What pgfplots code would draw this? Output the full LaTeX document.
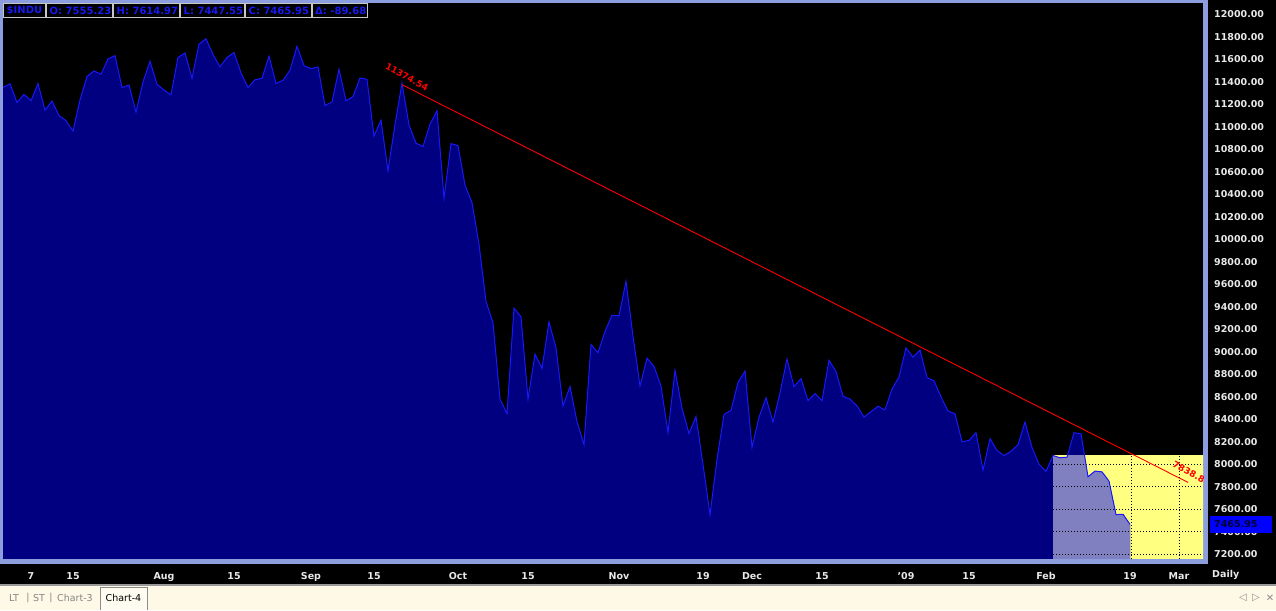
\documentclass[border=0pt]{standalone}
\usepackage{fontspec}
\setmainfont{DejaVu Sans}
\usepackage{pgfplots}
\pgfplotsset{compat=1.18}
\usepackage{pgfplotstable}
\definecolor{navy}{RGB}{0,0,128}
\definecolor{edgeblue}{RGB}{24,24,250}
\definecolor{lav}{RGB}{128,128,192}
\definecolor{ylw}{RGB}{255,255,128}
\definecolor{frameblue}{RGB}{140,158,222}
\definecolor{cream}{RGB}{253,249,230}
\definecolor{infoblue}{RGB}{24,24,240}
\definecolor{lbl}{RGB}{232,232,232}
\pgfplotstableread{
idx close
0 11350.01
1 11382.26
2 11215.51
3 11288.53
4 11231.96
5 11384.21
6 11147.44
7 11229.02
8 11100.54
9 11055.19
10 10962.54
11 11239.28
12 11446.66
13 11496.57
14 11467.34
15 11602.50
16 11632.38
17 11349.28
18 11370.69
19 11131.08
20 11397.56
21 11583.69
22 11378.02
23 11326.32
24 11284.15
25 11615.77
26 11656.07
27 11431.43
28 11734.32
29 11782.35
30 11642.47
31 11532.96
32 11615.93
33 11659.90
34 11479.39
35 11348.55
36 11417.43
37 11430.21
38 11628.06
39 11386.25
40 11412.87
41 11502.51
42 11715.18
43 11543.55
44 11516.92
45 11532.88
46 11188.23
47 11220.96
48 11510.74
49 11230.73
50 11268.92
51 11433.71
52 11421.99
53 10917.51
54 11059.02
55 10609.66
56 11019.69
57 11388.44
58 11015.69
59 10854.17
60 10825.17
61 11022.06
62 11143.13
63 10365.45
64 10850.66
65 10831.07
66 10482.85
67 10325.38
68 9955.50
69 9447.11
70 9258.10
71 8579.19
72 8451.19
73 9387.61
74 9310.99
75 8577.91
76 8979.26
77 8852.22
78 9265.43
79 9033.66
80 8519.21
81 8691.25
82 8378.95
83 8175.77
84 9065.12
85 8990.96
86 9180.69
87 9325.01
88 9319.83
89 9625.28
90 9139.27
91 8695.79
92 8943.81
93 8870.54
94 8693.96
95 8282.66
96 8835.25
97 8497.31
98 8273.58
99 8424.75
100 7997.28
101 7552.29
102 8046.42
103 8443.39
104 8479.47
105 8726.61
106 8829.04
107 8149.09
108 8419.09
109 8591.69
110 8376.24
111 8635.42
112 8934.18
113 8691.33
114 8761.42
115 8565.09
116 8629.68
117 8564.53
118 8924.14
119 8824.34
120 8604.99
121 8579.11
122 8519.69
123 8419.49
124 8468.48
125 8515.55
126 8483.93
127 8668.39
128 8776.39
129 9034.69
130 8952.89
131 9015.10
132 8769.70
133 8742.46
134 8599.18
135 8473.97
136 8448.56
137 8200.14
138 8212.49
139 8281.22
140 7949.09
141 8228.10
142 8122.80
143 8077.56
144 8116.03
145 8174.73
146 8375.45
147 8149.01
148 8000.86
149 7936.83
150 8078.36
151 8057.81
152 8063.07
153 8280.59
154 8270.87
155 7888.88
156 7939.53
157 7932.76
158 7850.41
159 7552.60
160 7555.63
161 7465.95
}\dji
\newcommand{\lblfont}{\fontsize{9.5}{11}\selectfont\bfseries}
\begin{document}
\begin{tikzpicture}[x=1pt,y=1pt]
\fill[black] (0,0) rectangle (1276,610);
\useasboundingbox (0,0) rectangle (1276,610);
% tab bar
\fill[cream] (0,0) rectangle (1276,24);
\fill[black!40] (0,24) rectangle (1276,25.5);
% frame
\fill[frameblue] (0,46) rectangle (1208,610);
\begin{axis}[at={(3pt,51pt)}, anchor=south west, scale only axis,
  width=1200pt, height=556pt,
  xmin=0, xmax=171.4286, ymin=7158.2, ymax=12100.4,
  axis background/.style={fill=black},
  axis line style={draw=none},
  major tick length=0pt,
  ytick={7200,7400,...,12000},
  yticklabels={7200.00,7400.00,7600.00,7800.00,8000.00,8200.00,8400.00,8600.00,8800.00,9000.00,9200.00,9400.00,9600.00,9800.00,10000.00,10200.00,10400.00,10600.00,10800.00,11000.00,11200.00,11400.00,11600.00,11800.00,12000.00},
  yticklabel pos=right,
  yticklabel style={anchor=west, inner sep=0pt, xshift=11pt, font=\lblfont, text=lbl},
  xtick={4,10,23,33,44,53,65,75,88,100,107,117,129,138,149,161,168},
  xticklabels={7,15,Aug,15,Sep,15,Oct,15,Nov,19,Dec,15,'09,15,Feb,19,Mar},
  xticklabel style={anchor=base, inner sep=0pt, yshift=-20pt, font=\lblfont, text=lbl},
  clip=true]
\fill[ylw] (axis cs:150,7000) rectangle (axis cs:180,8078.36);
\addplot[fill=navy, draw=none] table[x=idx,y=close]{\dji} \closedcycle;
\begin{scope}
\clip (axis cs:150,7000) rectangle (axis cs:180,8078.36);
\addplot[fill=lav, draw=none] table[x=idx,y=close]{\dji} \closedcycle;
\draw[black, line width=1pt, dash pattern=on 1pt off 2pt] (axis cs:150,8000) -- (axis cs:180,8000);
\draw[black, line width=1pt, dash pattern=on 1pt off 2pt] (axis cs:150,7800) -- (axis cs:180,7800);
\draw[black, line width=1pt, dash pattern=on 1pt off 2pt] (axis cs:150,7600) -- (axis cs:180,7600);
\draw[black, line width=1pt, dash pattern=on 1pt off 2pt] (axis cs:150,7400) -- (axis cs:180,7400);
\draw[black, line width=1pt, dash pattern=on 1pt off 2pt] (axis cs:150,7200) -- (axis cs:180,7200);
\draw[black, line width=1pt, dash pattern=on 1pt off 2pt] (axis cs:161.2,7000) -- (axis cs:161.2,8100);
\draw[black, line width=1pt, dash pattern=on 1pt off 2pt] (axis cs:168.1,7000) -- (axis cs:168.1,8100);
\end{scope}
\addplot[edgeblue, line width=1pt] table[x=idx,y=close]{\dji};
\addplot[red, line width=0.9pt] coordinates {(57,11374.54) (169.3,7838.8)};
\node[text=red, rotate=-28, inner sep=0pt, font=\fontsize{9}{10}\selectfont\bfseries] at (axis cs:57.7,11443) {11374.54};
\node[text=red, rotate=-28, inner sep=0pt, font=\fontsize{9}{10}\selectfont\bfseries] at (axis cs:169.4,7932) {7838.8};
\end{axis}
% info bar
\fill[black] (3.3,591.7) rectangle (368.3,606.7);
\foreach \a/\b in {3.3/46,46/113.3,113.3/180.3,180.3/245,245/311.7,311.7/368.3}
  \draw[black!22, line width=1pt] (\a+0.5,592.2) rectangle (\b-0.5,606.2);
\foreach \xx/\t in {6.5/{\$INDU},49.5/{O: 7555.23},116.5/{H: 7614.97},183.5/{L: 7447.55},248.5/{C: 7465.95},315/{Δ: -89.68}}
  \node[anchor=west, inner sep=0pt, text=infoblue, font=\fontsize{10}{11}\selectfont\bfseries] at (\xx,599.2) {\t};
% current price
\fill[blue] (1210,77) rectangle (1272,94);
\node[anchor=west, inner sep=0pt, text={rgb,255:red,0;green,0;blue,50}, font=\lblfont] at (1214,85.5) {7465.95};
\node[anchor=west, inner sep=0pt, text=lbl, font=\lblfont] at (1212,35) {Daily};
% tabs
\begin{scope}[every node/.style={inner sep=0pt, font=\fontsize{9.5}{11}\selectfont, text=black!48}]
\node at (14,12) {LT};
\node at (28,12) {|};
\node at (39,12) {ST};
\node at (51,12) {|};
\node at (75,12) {Chart-3};
\end{scope}
\fill[cream!60!white] (100,0) rectangle (147,23);
\draw[black!45, line width=0.8pt] (100,0) -- (100,23) -- (147,23) -- (147,0);
\node[inner sep=0pt, font=\fontsize{9.5}{11}\selectfont, text=black] at (123.5,12) {Chart-4};
\node[inner sep=0pt, font=\fontsize{10}{11}\selectfont, text=black!45] at (1243,12) {◁};
\node[inner sep=0pt, font=\fontsize{10}{11}\selectfont, text=black!45] at (1256,12) {▷};
\node[inner sep=0pt, font=\fontsize{10}{11}\selectfont, text=black!45] at (1270,12) {✕};
\end{tikzpicture}
\end{document}
